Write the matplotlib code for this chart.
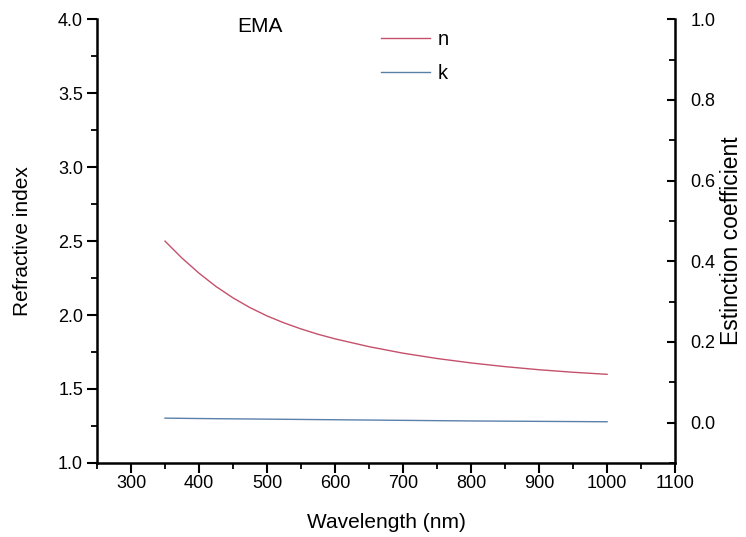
import matplotlib
matplotlib.use("Agg")
import matplotlib.pyplot as plt
from matplotlib.ticker import MultipleLocator

# Optical constants of the EMA layer
wavelength_nm = [350, 375, 400, 425, 450, 475, 500, 525, 550, 575, 600,
                 650, 700, 750, 800, 850, 900, 950, 1000]
n_values = [2.500, 2.385, 2.283, 2.193, 2.116, 2.050, 1.994, 1.947, 1.906,
            1.870, 1.839, 1.786, 1.742, 1.706, 1.676, 1.651, 1.630, 1.613,
            1.599]
k_wavelength_nm = [350, 400, 500, 600, 700, 800, 900, 1000]
k_values = [0.011, 0.010, 0.0085, 0.007, 0.0055, 0.004, 0.003, 0.002]

x_ticks = [300, 400, 500, 600, 700, 800, 900, 1000, 1100]
n_ticks = [1.0, 1.5, 2.0, 2.5, 3.0, 3.5, 4.0]
k_ticks = [0.0, 0.2, 0.4, 0.6, 0.8, 1.0]

plt.rcParams["font.family"] = ["Liberation Sans", "DejaVu Sans"]

fig = plt.figure(figsize=(7.46, 5.37), dpi=100)
ax = fig.add_axes([0.130, 0.138, 0.775, 0.826])
ax2 = ax.twinx()

n_color = "#c4506c"
k_color = "#5a80aa"

ln_n, = ax.plot(wavelength_nm, n_values, color=n_color, lw=1.0, label="n")
ln_k, = ax2.plot(k_wavelength_nm, k_values, color=k_color, lw=1.0, label="k")

ax.set_xlim(250, 1100)
ax.set_ylim(1.0, 4.0)
ax2.set_ylim(-0.1, 1.0)

ax.set_xticks(x_ticks)
ax.set_yticks(n_ticks)
ax2.set_yticks(k_ticks)
ax.xaxis.set_minor_locator(MultipleLocator(50))
ax.yaxis.set_minor_locator(MultipleLocator(0.25))
ax2.yaxis.set_minor_locator(MultipleLocator(0.1))
ax.yaxis.set_major_formatter(plt.FormatStrFormatter("%.1f"))
ax2.yaxis.set_major_formatter(plt.FormatStrFormatter("%.1f"))

for a in (ax, ax2):
    a.spines["top"].set_visible(False)
    for s in a.spines.values():
        s.set_linewidth(1.8)
ax.spines["right"].set_visible(False)
ax2.spines["left"].set_visible(False)
ax2.spines["bottom"].set_visible(False)

ax.tick_params(axis="x", which="major", direction="out", length=7, width=1.5,
               labelsize=13, pad=2)
ax.tick_params(axis="x", which="minor", direction="out", length=4, width=1.3)
ax.tick_params(axis="y", which="major", direction="out", length=7, width=1.5,
               labelsize=13, pad=3)
ax.tick_params(axis="y", which="minor", direction="out", length=4, width=1.3)
ax2.tick_params(axis="y", which="major", direction="in", length=6, width=1.5,
                labelsize=13, pad=11)
ax2.tick_params(axis="y", which="minor", direction="in", length=4, width=1.3)

ax.set_xlabel("Wavelength (nm)", fontsize=15, labelpad=15)
ax.set_ylabel("Refractive index", fontsize=15, labelpad=19)
ax2.set_ylabel("Estinction coefficient", fontsize=16.5, labelpad=3)

ax.text(0.282, 0.983, "EMA", transform=ax.transAxes, fontsize=15,
        ha="center", va="center")

leg = ax.legend(handles=[ln_n, ln_k], loc="upper left",
                bbox_to_anchor=(0.487, 0.978), bbox_transform=fig.transFigure,
                frameon=False, fontsize=14.5, handlelength=2.4,
                handletextpad=0.4, labelspacing=0.75)

fig.savefig("out.png", dpi=100)
